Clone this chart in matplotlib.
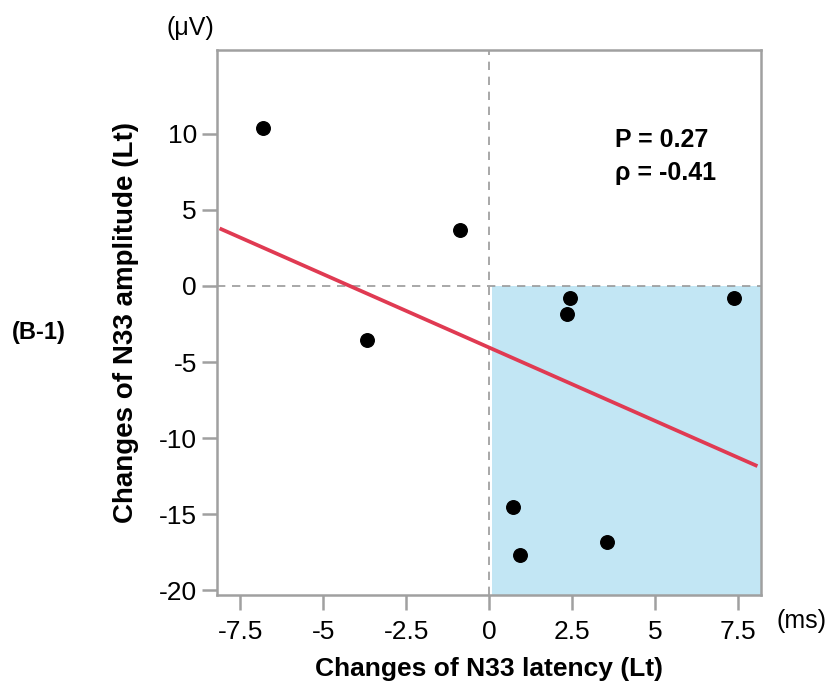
import numpy as np
import matplotlib
matplotlib.use("Agg")
import matplotlib.pyplot as plt
from matplotlib.patches import Rectangle

# data
latency = [-6.8, -0.87, -3.67, 2.44, 2.35, 7.38, 0.72, 0.93, 3.55]
amplitude = [10.35, 3.67, -3.54, -0.79, -1.83, -0.79, -14.5, -17.7, -16.8]

fit_slope = -0.963
fit_intercept = -4.04
fit_range = [-8.07, 8.04]

x_ticks = [-7.5, -5, -2.5, 0, 2.5, 5, 7.5]
x_ticklabels = ["-7.5", "-5", "-2.5", "0", "2.5", "5", "7.5"]
y_ticks = [-20, -15, -10, -5, 0, 5, 10]
y_ticklabels = ["-20", "-15", "-10", "-5", "0", "5", "10"]

stats_lines = ["P = 0.27", "\u03c1 = -0.41"]

plt.rcParams['font.family'] = ['Liberation Sans', 'DejaVu Sans']
plt.rcParams['axes.unicode_minus'] = False

fig = plt.figure(figsize=(8.27, 6.89), dpi=100)
ax = fig.add_axes([0.2624, 0.1364, 0.9202 - 0.2624, 0.9274 - 0.1364])

xmin, xmax = -8.2, 8.2
ymin, ymax = -20.3, 15.5
ax.set_xlim(xmin, xmax)
ax.set_ylim(ymin, ymax)

# shaded quadrant (latency up, amplitude down)
ax.add_patch(Rectangle((0.08, ymin), xmax - 0.08, 0 - ymin,
                       facecolor='#c2e6f4', edgecolor='none', zorder=0))

# zero reference lines
ax.axhline(0, color='#999999', lw=1.2, ls=(0, (5, 4)), zorder=1)
ax.axvline(0, color='#999999', lw=1.2, ls=(0, (5, 4)), zorder=1)

# regression line
fx = np.array(fit_range)
ax.plot(fx, fit_slope * fx + fit_intercept, color='#e03a52', lw=2.7, zorder=2)

# points
ax.scatter(latency, amplitude, s=95, color='black', zorder=3)

# axes styling
for side in ax.spines.values():
    side.set_color('#a0a0a0')
    side.set_linewidth(1.8)
ax.tick_params(axis='both', colors='#a0a0a0', length=11, width=1.8,
               labelcolor='black', labelsize=19)
ax.tick_params(axis='x', pad=7)
ax.set_xticks(x_ticks)
ax.set_xticklabels(x_ticklabels)
ax.set_yticks(y_ticks)
ax.set_yticklabels(y_ticklabels)

ax.set_xlabel('Changes of N33 latency (Lt)', fontsize=19, fontweight='bold', labelpad=9)
ax.set_ylabel('Changes of N33 amplitude (Lt)', fontsize=20, fontweight='bold', labelpad=14)

ax.text(0.731, 0.834, stats_lines[0], transform=ax.transAxes,
        fontsize=18, fontweight='bold', va='center', ha='left')
ax.text(0.731, 0.774, stats_lines[1], transform=ax.transAxes,
        fontsize=18, fontweight='bold', va='center', ha='left')

# unit labels and panel tag
fig.text(190 / 827, 1 - 28 / 689, '(\u03bcV)', fontsize=18, ha='center', va='center')
fig.text(801 / 827, 1 - 621 / 689, '(ms)', fontsize=18, ha='center', va='center')
fig.text(39 / 827, 1 - 332 / 689, '(B-1)', fontsize=17, fontweight='bold',
         ha='center', va='center')

fig.savefig('out.png', dpi=100)
